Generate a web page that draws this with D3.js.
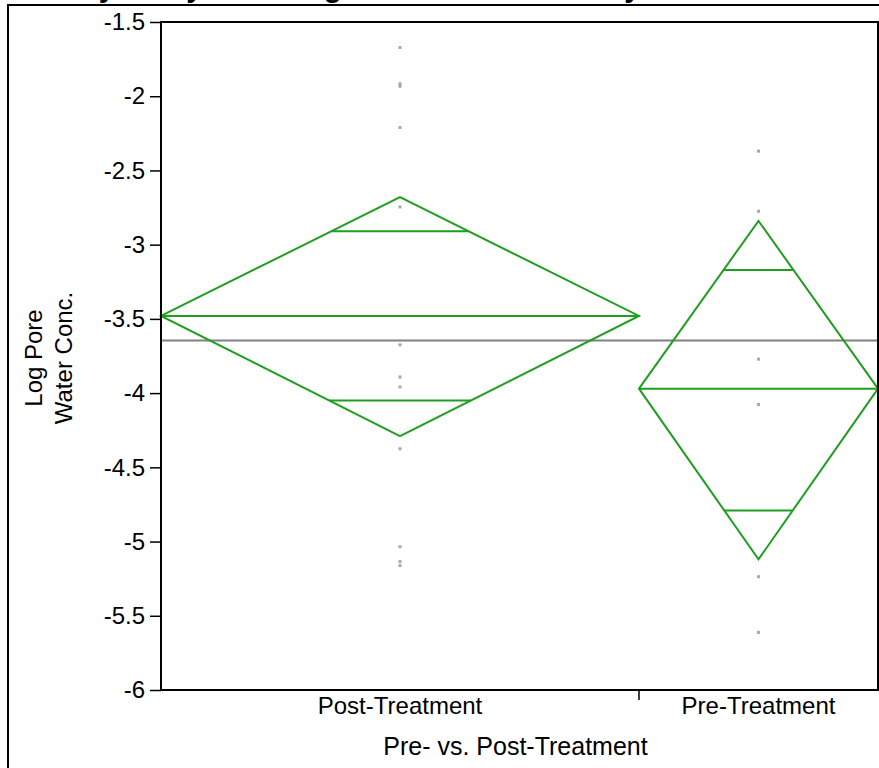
<!DOCTYPE html>
<html><head><meta charset="utf-8">
<script src="https://cdn.jsdelivr.net/npm/d3@7"></script>
<style>body{margin:0;background:#fff}svg{display:block}</style>
</head><body><svg id="chart" width="879" height="768"></svg>
<script>
const title = "Oneway Analysis of Log Pore Water Conc. By Pre- vs. Post-Treatment";
const categories = ["Post-Treatment", "Pre-Treatment"];
const postValues = [-1.672, -1.916, -1.933, -2.211, -2.746, -3.675, -3.891, -3.958, -4.375, -5.035, -5.135, -5.162];
const preValues = [-2.370, -2.775, -3.771, -4.077, -5.237, -5.612];
const groupMeans = [-3.48, -3.97];
const ciUpper = [-2.68, -2.84];
const ciLower = [-4.29, -5.12];
const overlapUpper = [-2.91, -3.17];
const overlapLower = [-4.05, -4.79];
const grandMean = -3.645;
const yTicks = [-1.5, -2, -2.5, -3, -3.5, -4, -4.5, -5, -5.5, -6];
const yLabelLines = ["Log Pore", "Water Conc."];
const xLabel = "Pre- vs. Post-Treatment";

const groups = [postValues, preValues];
const counts = groups.map(g => g.length);
const total = d3.sum(counts);
const starts = counts.map((c, i) => d3.sum(counts.slice(0, i)));

const FONT = "'Liberation Sans', Arial, sans-serif";
const FS = 24;
const GREEN = "#1f9e1f";
const svg = d3.select("#chart");
const L = 161, R = 878, T = 22, B = 690;

const x = d3.scaleLinear().domain([0, total]).range([L, R]);
const y = d3.scaleLinear().domain([-6, -1.5]).range([B, T]);

// outer frame
svg.append("path").attr("d", `M8,768 V5 H879`).attr("fill", "none").attr("stroke", "#000").attr("stroke-width", 2);

// title (clipped above view, as in the reference)
svg.append("text").attr("x", 2).attr("y", -3).attr("font-family", FONT).attr("font-weight", "bold")
  .attr("font-size", 29.5).attr("fill", "#000").text(title);

// points
groups.forEach((vals, i) => {
  const cx = x(starts[i] + counts[i] / 2);
  svg.append("g").selectAll("rect").data(vals).join("rect")
    .attr("x", cx - 1.5).attr("y", d => y(d) - 1.5).attr("width", 3).attr("height", 3)
    .attr("fill", "#a8a8a8");
});

// grand mean line
svg.append("line").attr("x1", L).attr("x2", R).attr("y1", y(grandMean)).attr("y2", y(grandMean))
  .attr("stroke", "#808080").attr("stroke-width", 2);

// diamonds
groups.forEach((vals, i) => {
  const x0 = x(starts[i]), x1 = x(starts[i] + counts[i]), xc = (x0 + x1) / 2;
  const m = groupMeans[i];
  const g = svg.append("g").attr("fill", "none").attr("stroke", GREEN).attr("stroke-width", 2);
  g.append("path").attr("d", `M${x0},${y(m)} L${xc},${y(ciUpper[i])} L${x1},${y(m)} L${xc},${y(ciLower[i])} Z`);
  g.append("line").attr("x1", x0).attr("x2", x1).attr("y1", y(m)).attr("y2", y(m));
  [[overlapUpper[i], ciUpper[i]], [overlapLower[i], ciLower[i]]].forEach(([ov, ci]) => {
    const frac = 1 - Math.abs(y(ov) - y(m)) / Math.abs(y(ci) - y(m));
    const hw = (x1 - x0) / 2 * frac;
    g.append("line").attr("x1", xc - hw).attr("x2", xc + hw).attr("y1", y(ov)).attr("y2", y(ov));
  });
});

// plot frame
svg.append("rect").attr("x", L).attr("y", T).attr("width", R - L).attr("height", B - T)
  .attr("fill", "none").attr("stroke", "#000").attr("stroke-width", 2);

// y axis
const yAxis = svg.append("g").attr("transform", `translate(${L},0)`)
  .call(d3.axisLeft(y).tickValues(yTicks).tickFormat(d => String(d)).tickSize(11).tickSizeOuter(0).tickPadding(5));
yAxis.select(".domain").remove();
yAxis.selectAll("line").attr("stroke", "#000").attr("stroke-width", 1.5);
yAxis.selectAll("text").attr("font-family", FONT).attr("font-size", FS).attr("fill", "#000");

// x axis: boundary ticks between categories
const boundaries = starts.slice(1);
svg.append("g").selectAll("line").data(boundaries).join("line")
  .attr("x1", d => x(d)).attr("x2", d => x(d)).attr("y1", B).attr("y2", B + 10)
  .attr("stroke", "#000").attr("stroke-width", 1.5);
svg.append("g").selectAll("text").data(categories).join("text")
  .attr("x", (d, i) => x(starts[i] + counts[i] / 2)).attr("y", 714)
  .attr("text-anchor", "middle").attr("font-family", FONT).attr("font-size", FS).attr("fill", "#000")
  .text(d => d);

// axis titles
svg.append("text").attr("x", (L + R) / 2 - 4).attr("y", 755).attr("text-anchor", "middle")
  .attr("font-family", FONT).attr("font-size", 25).attr("fill", "#000").text(xLabel);
const yl = svg.append("text").attr("transform", "translate(0,358) rotate(-90)")
  .attr("text-anchor", "middle").attr("font-family", FONT).attr("font-size", FS).attr("fill", "#000");
yLabelLines.forEach((t, i) => {
  yl.append("tspan").attr("x", 0).attr("y", 42 + i * 29.5).text(t);
});
</script></body></html>
